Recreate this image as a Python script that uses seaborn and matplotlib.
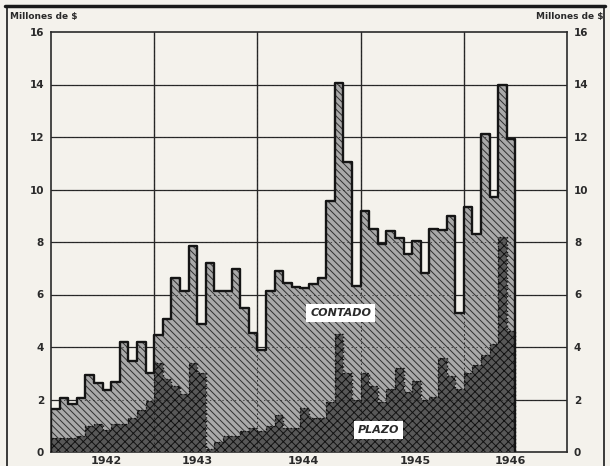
import numpy as np
import pandas as pd
import matplotlib.pyplot as plt
import seaborn as sns
from matplotlib.lines import Line2D

# Monthly values, Jan 1942 - Jun 1946 (millones de $)
years = ['1942', '1943', '1944', '1945', '1946']
total = [1.65, 2.04, 1.81, 2.04, 2.95, 2.62, 2.37, 2.68, 4.2, 3.48, 4.2, 3.0,
         4.45, 5.06, 6.63, 6.13, 7.85, 4.86, 7.2, 6.13, 6.13, 6.97, 5.5, 4.55,
         3.9, 6.13, 6.9, 6.45, 6.3, 6.26, 6.4, 6.64, 9.58, 14.06, 11.05, 6.32,
         9.2, 8.49, 7.92, 8.43, 8.17, 7.54, 8.05, 6.83, 8.5, 8.45, 9.0, 5.3,
         9.32, 8.3, 12.13, 9.7, 13.98, 11.94]
plazo = [0.55, 0.55, 0.55, 0.6, 1.0, 1.08, 0.83, 1.08, 1.08, 1.3, 1.6, 1.95,
         3.4, 2.8, 2.5, 2.2, 3.38, 3.0, 0.1, 0.4, 0.6, 0.6, 0.8, 0.9,
         0.8, 1.0, 1.4, 0.9, 0.9, 1.66, 1.28, 1.28, 1.9, 4.5, 3.0, 2.0,
         3.0, 2.5, 1.9, 2.4, 3.2, 2.3, 2.7, 2.0, 2.1, 3.6, 2.9, 2.4,
         3.0, 3.3, 3.7, 4.1, 8.2, 4.6]
y_ticks = list(range(0, 17, 2))

df = pd.DataFrame({'mes': np.arange(len(total)), 'total': total, 'plazo': plazo})

sns.set_style('white')
plt.rcParams['font.family'] = ['DejaVu Sans']
plt.rcParams['hatch.linewidth'] = 0.7

paper = '#f4f2ec'
ink = '#2a2a2a'

fig = plt.figure(figsize=(6.1, 4.66), dpi=100)
fig.patch.set_facecolor(paper)
ax = fig.add_axes([51 / 610, 1 - 452 / 466, (567 - 51) / 610, (452 - 32) / 466])
ax.set_facecolor(paper)

# step edges
edges = np.append(df['mes'].values, len(df))
tot_ext = np.append(df['total'].values, df['total'].values[-1])
pla_ext = np.append(df['plazo'].values, df['plazo'].values[-1])

ax.fill_between(edges, pla_ext, tot_ext, step='post', facecolor='#a9a9a9',
                edgecolor='#303030', hatch='\\\\\\\\\\', lw=0, zorder=2)
ax.fill_between(edges, 0, pla_ext, step='post', facecolor='#585858',
                edgecolor='#121212', hatch='xxxx', lw=0, zorder=3)

# outlines
def outline(vals):
    xs = np.concatenate([[0], np.repeat(edges, 2)[1:-1], [len(vals)]])
    ys = np.concatenate([[0], np.repeat(vals, 2), [0]])
    return xs, ys

xs, ys = outline(df['total'].values)
sns.lineplot(x=xs, y=ys, sort=False, estimator=None, color='#151515', lw=1.7, ax=ax, zorder=6)
xs, ys = outline(df['plazo'].values)
sns.lineplot(x=xs, y=ys, sort=False, estimator=None, color='#111111', lw=1.0, ls=':', ax=ax, zorder=6)

# grid
for v in y_ticks[1:-1]:
    ax.axhline(v, color=ink, lw=0.9, zorder=1)
    ax.axhline(v, color='#222222', lw=0.5, ls=(0, (2, 4)), zorder=4)
for m in [12, 24, 36, 48]:
    ax.axvline(m, color=ink, lw=1.0, zorder=1)
    ax.axvline(m, color='#222222', lw=0.6, ls=(0, (2, 3)), zorder=4)

ax.set_xlim(0, 60)
ax.set_ylim(0, 16)
ax.set_yticks(y_ticks)
ax.set_yticklabels([str(v) for v in y_ticks], fontsize=7.5, fontweight='bold', color=ink)
ax.tick_params(axis='y', length=0, pad=5, labelright=True, labelleft=True)
ax.set_xticks([6.4, 17.0, 29.3, 42.3, 53.4])
ax.set_xticklabels(years, fontsize=8, fontweight='bold', color=ink)
ax.tick_params(axis='x', length=0, pad=3)
for s in ax.spines.values():
    s.set_color(ink)
    s.set_linewidth(1.2)
    s.set_visible(True)

ax.text(33.7, 5.3, 'CONTADO', style='italic', fontweight='bold', fontsize=8,
        color=ink, ha='center', va='center', zorder=8,
        bbox=dict(boxstyle='square,pad=0.35', facecolor='white', edgecolor='none'))
ax.text(38.1, 0.85, 'PLAZO', style='italic', fontweight='bold', fontsize=8,
        color=ink, ha='center', va='center', zorder=8,
        bbox=dict(boxstyle='square,pad=0.35', facecolor='white', edgecolor='none'))

fig.text(10 / 610, 1 - 17 / 466, 'Millones de $', fontsize=6.5, fontweight='bold',
         color=ink, ha='left', va='center')
fig.text(603 / 610, 1 - 17 / 466, 'Millones de $', fontsize=6.5, fontweight='bold',
         color=ink, ha='right', va='center')

# page frame
fig.add_artist(Line2D([5 / 610, 605 / 610], [1 - 6 / 466, 1 - 6 / 466], color='#1a1a1a', lw=2.5))
fig.add_artist(Line2D([7 / 610, 7 / 610], [0, 1 - 6 / 466], color='#1a1a1a', lw=1.2))
fig.add_artist(Line2D([604 / 610, 604 / 610], [0, 1 - 6 / 466], color='#1a1a1a', lw=1.2))

fig.savefig('out.png', dpi=100, facecolor=fig.get_facecolor())
